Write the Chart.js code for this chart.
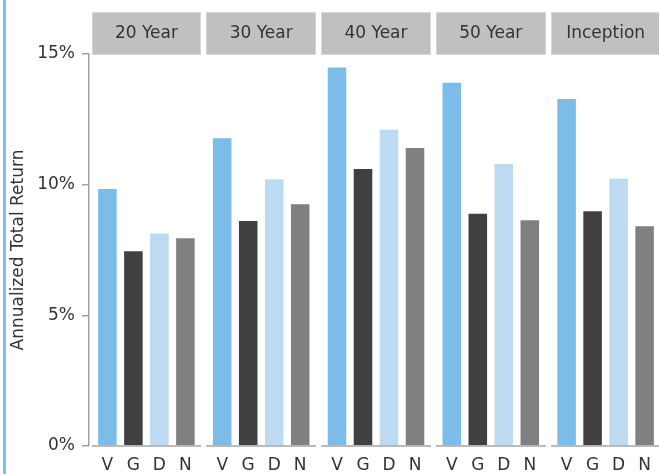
<!DOCTYPE html>
<html>
<head>
<meta charset="utf-8">
<script src="https://cdn.jsdelivr.net/npm/chart.js@4/dist/chart.umd.min.js"></script>
<style>
  html, body { margin: 0; padding: 0; background: #fff; overflow: hidden; }
  #wrap { position: relative; width: 659px; height: 474px; overflow: hidden; }
  #edge { position: absolute; left: 3px; top: 0; width: 3px; height: 474px; background: #7fc0ea; }
  canvas { position: absolute; left: 0; top: 0; }
</style>
</head>
<body>
<div id="wrap">
  <div id="edge"></div>
  <canvas id="c" width="663" height="474"></canvas>
</div>
<script>
// Periods shown as panels
const periods = ['20 Year', '30 Year', '40 Year', '50 Year', 'Inception'];
// Annualized total return (%) per series
const seriesV = [9.87, 11.81, 14.52, 13.94, 13.32];
const seriesG = [7.49, 8.65, 10.64, 8.93, 9.02];
const seriesD = [8.17, 10.25, 12.14, 10.83, 10.26];
const seriesN = [7.99, 9.29, 11.44, 8.68, 8.45];
// Y axis ticks
const yTicks = [0, 5, 10, 15];

const FONT = '"DejaVu Sans", sans-serif';
const AXIS = '#a3a3a3';
const TEXT = '#333333';

// Panel headers, per-panel baselines and bar letters
const panelPlugin = {
  id: 'panels',
  afterDatasetsDraw(chart) {
    const { ctx, chartArea, scales } = chart;
    const x = scales.x;
    const pitch = (chartArea.right - chartArea.left) / periods.length;
    const half = pitch / 2 - 2.5;
    ctx.save();
    periods.forEach((p, i) => {
      const cx = x.getPixelForValue(i);
      const l = Math.round(cx - half), r = Math.round(cx + half);
      // header box
      ctx.fillStyle = '#c0c0c0';
      ctx.fillRect(l, 12, r - l, 43);
      ctx.strokeStyle = '#d6d6d6';
      ctx.lineWidth = 1;
      ctx.strokeRect(l + 0.5, 12.5, r - l - 1, 42);
      ctx.fillStyle = TEXT;
      ctx.font = '17px ' + FONT;
      ctx.textAlign = 'center';
      ctx.textBaseline = 'middle';
      ctx.fillText(p, cx, 34);
      // baseline
      ctx.strokeStyle = AXIS;
      ctx.lineWidth = 1.5;
      ctx.beginPath();
      ctx.moveTo(l, chartArea.bottom);
      ctx.lineTo(r, chartArea.bottom);
      ctx.stroke();
    });
    // series letter under each bar
    ctx.fillStyle = TEXT;
    ctx.font = '17px ' + FONT;
    ctx.textAlign = 'center';
    ctx.textBaseline = 'middle';
    chart.data.datasets.forEach((ds, di) => {
      chart.getDatasetMeta(di).data.forEach(bar => {
        ctx.fillText(ds.label, bar.x, chartArea.bottom + 20);
      });
    });
    ctx.restore();
  }
};

new Chart(document.getElementById('c'), {
  type: 'bar',
  data: {
    labels: periods,
    datasets: [
      { label: 'V', data: seriesV, backgroundColor: '#7bbde8' },
      { label: 'G', data: seriesG, backgroundColor: '#404040' },
      { label: 'D', data: seriesD, backgroundColor: '#bcdaf2' },
      { label: 'N', data: seriesN, backgroundColor: '#808080' }
    ]
  },
  options: {
    responsive: false,
    devicePixelRatio: 1,
    animation: false,
    layout: { padding: { top: 54, right: 0, bottom: 0, left: 0 } },
    datasets: {
      bar: {
        categoryPercentage: 0.906,
        barPercentage: 0.79,
        borderWidth: 1,
        borderColor: 'rgba(255,255,255,0.3)'
      }
    },
    plugins: {
      legend: { display: false },
      tooltip: { enabled: false }
    },
    scales: {
      x: {
        grid: { display: false },
        border: { display: false },
        ticks: { display: false },
        afterFit(scale) { scale.height = 28; }
      },
      y: {
        min: 0,
        max: 15,
        afterBuildTicks(scale) { scale.ticks = yTicks.map(v => ({ value: v })); },
        afterFit(scale) { scale.width = 89; },
        grid: { drawOnChartArea: false, drawTicks: true, tickLength: 7, color: AXIS, lineWidth: 1.5 },
        border: { display: true, color: AXIS, width: 1.5 },
        ticks: {
          padding: 7,
          color: TEXT,
          font: { family: FONT, size: 17 },
          callback: v => v + '%'
        },
        title: {
          display: true,
          text: 'Annualized Total Return',
          color: TEXT,
          font: { family: FONT, size: 17 },
          padding: { top: 8, bottom: 0 }
        }
      }
    }
  },
  plugins: [panelPlugin]
});
</script>
</body>
</html>
